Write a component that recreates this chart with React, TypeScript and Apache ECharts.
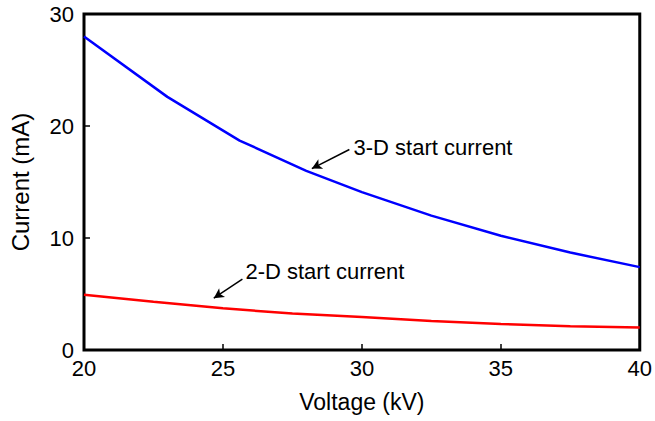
import React, { useEffect, useRef } from "react";
import * as echarts from "echarts";

const voltage3D = [20, 23, 25.6, 28, 30, 32.5, 35, 37.5, 40];
const current3D = [28.0, 22.6, 18.7, 16.0, 14.1, 12.0, 10.2, 8.7, 7.4];
const voltage2D = [20, 22.5, 25, 27.5, 30, 32.5, 35, 37.5, 40];
const current2D = [4.93, 4.3, 3.72, 3.25, 2.95, 2.6, 2.33, 2.12, 2.0];
const xTicks = [20, 25, 30, 35, 40];
const yTicks = [0, 10, 20, 30];

const notes = [
  { text: "3-D start current", tail: [29.55, 17.9], tip: [28.2, 16.2], label: [29.7, 18.1] },
  { text: "2-D start current", tail: [25.7, 6.33], tip: [24.67, 4.63], label: [25.81, 7.04] },
];

const FONT = "'Liberation Sans', Arial, Helvetica, sans-serif";

export default function App() {
  const ref = useRef<HTMLDivElement>(null);
  useEffect(() => {
    if (!ref.current) return;
    const chart = echarts.init(ref.current, undefined, { renderer: "svg" });
    chart.setOption({
      animation: false,
      backgroundColor: "#fff",
      textStyle: { fontFamily: FONT },
      grid: {
        left: 81,
        right: 12,
        top: 14,
        bottom: 71,
        show: true,
        borderColor: "#000",
        borderWidth: 3,
        backgroundColor: "transparent",
      },
      xAxis: {
        type: "value",
        min: xTicks[0],
        max: xTicks[xTicks.length - 1],
        interval: 5,
        name: "Voltage (kV)",
        nameLocation: "middle",
        nameGap: 40,
        nameTextStyle: { fontSize: 23, color: "#000", fontFamily: FONT },
        axisLine: { show: false },
        axisTick: { show: true, inside: true, length: 6, lineStyle: { color: "#000", width: 1.5 } },
        axisLabel: { fontSize: 22, color: "#000", margin: 7, fontFamily: FONT },
        splitLine: { show: false },
      },
      yAxis: {
        type: "value",
        min: yTicks[0],
        max: yTicks[yTicks.length - 1],
        interval: 10,
        name: "Current (mA)",
        nameLocation: "middle",
        nameGap: 52,
        nameTextStyle: { fontSize: 24, color: "#000", fontFamily: FONT },
        axisLine: { show: false },
        axisTick: { show: true, inside: true, length: 6, lineStyle: { color: "#000", width: 1.5 } },
        axisLabel: { fontSize: 22, color: "#000", margin: 10, fontFamily: FONT },
        splitLine: { show: false },
      },
      series: [
        {
          type: "line",
          data: voltage3D.map((v, i) => [v, current3D[i]]),
          showSymbol: false,
          smooth: false,
          lineStyle: { color: "#0000ff", width: 2.5 },
          itemStyle: { color: "#0000ff" },
          z: 3,
        },
        {
          type: "line",
          data: voltage2D.map((v, i) => [v, current2D[i]]),
          showSymbol: false,
          smooth: false,
          lineStyle: { color: "#ff0000", width: 2.5 },
          itemStyle: { color: "#ff0000" },
          z: 3,
        },
        {
          type: "line",
          data: [],
          silent: true,
          markLine: {
            silent: true,
            symbol: ["none", "arrow"],
            symbolSize: [8, 10],
            label: { show: false },
            lineStyle: { color: "#000", width: 1.5, type: "solid" },
            itemStyle: { color: "#000" },
            data: notes.map((n) => [{ coord: n.tail }, { coord: n.tip }]),
          },
        },
      ],
    });
    chart.setOption({
      graphic: notes.map((n) => {
        const p = chart.convertToPixel({ gridIndex: 0 }, n.label) as number[];
        return {
          type: "text",
          x: p[0],
          y: p[1],
          style: {
            text: n.text,
            fontSize: 22,
            fontFamily: FONT,
            fill: "#000",
            textAlign: "left",
            textVerticalAlign: "middle",
          },
        };
      }),
    });
    return () => chart.dispose();
  }, []);
  return <div ref={ref} style={{ width: 655, height: 421, position: "absolute", left: 0, top: 0 }} />;
}
